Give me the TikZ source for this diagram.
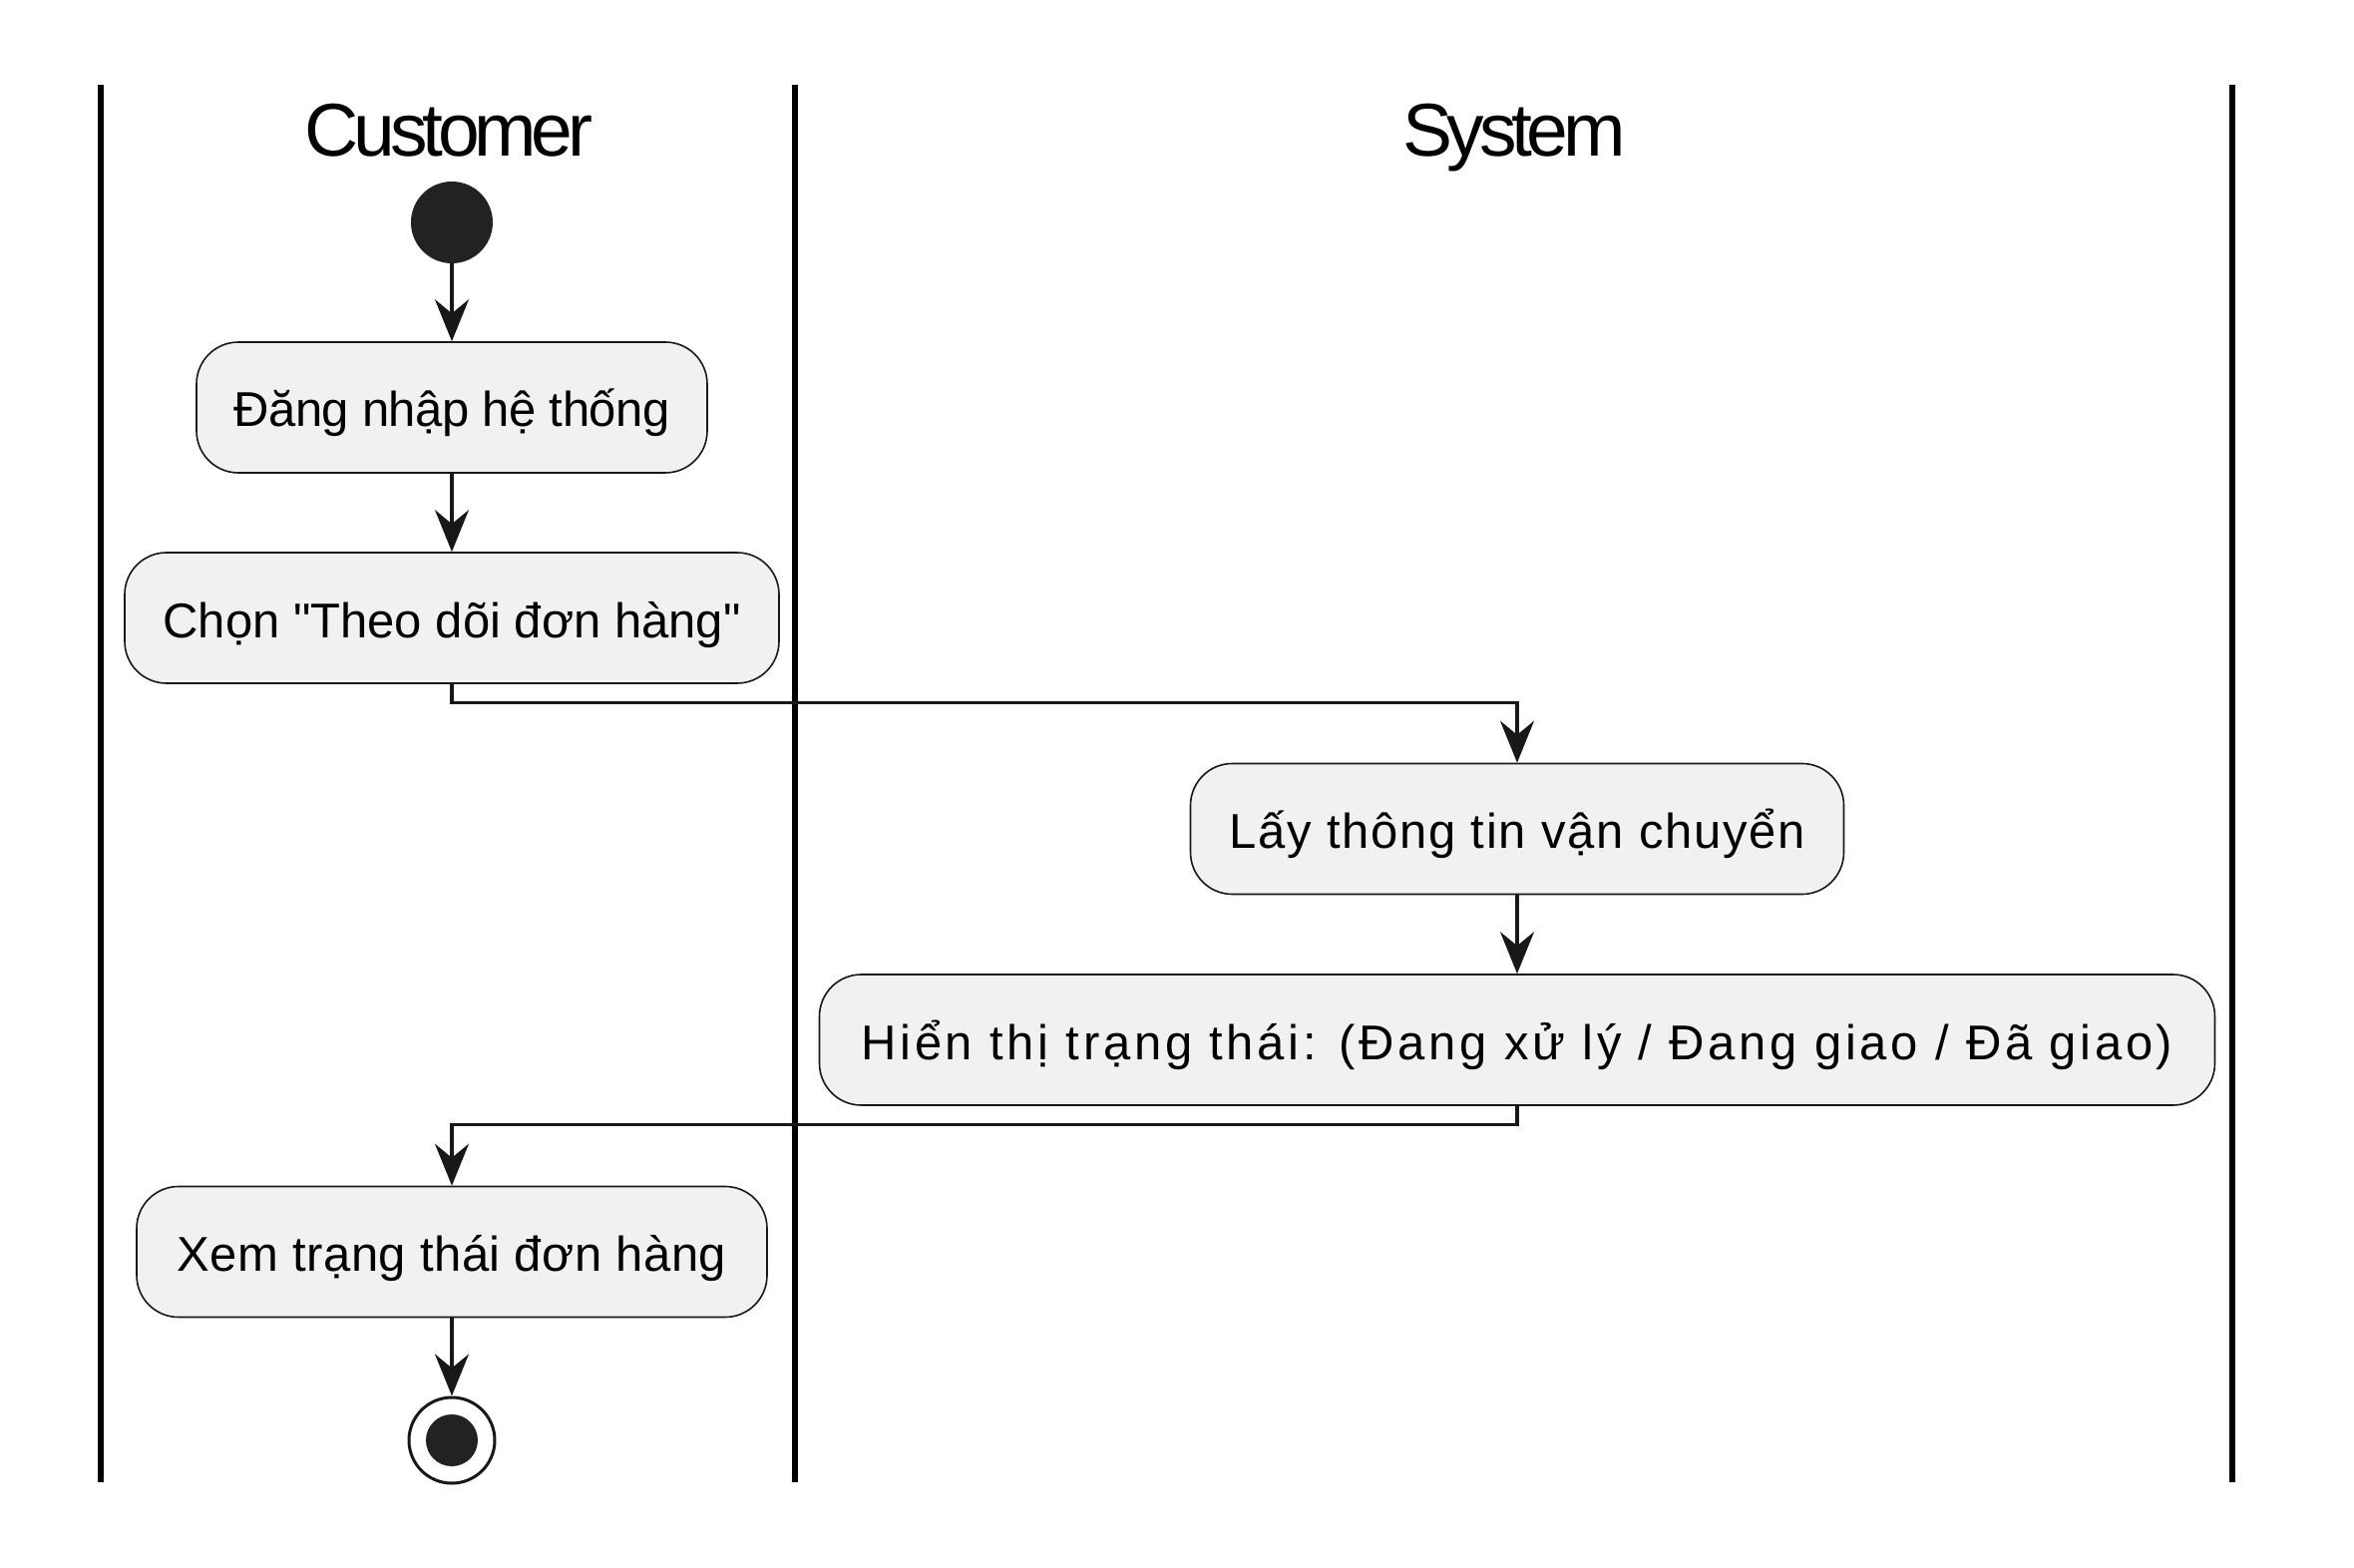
\documentclass[tikz,border=0pt]{standalone}
\usepackage{fontspec}
\setmainfont{Liberation Sans}[Ligatures=TeXOff]
\usetikzlibrary{arrows.meta}
\definecolor{boxfill}{HTML}{F1F1F1}
\definecolor{boxline}{HTML}{181818}
\definecolor{dotfill}{HTML}{222222}
\tikzset{
  actbox/.style={draw=boxline, line width=0.8pt, fill=boxfill, rounded corners=21pt,
    minimum height=65.5pt, inner sep=0pt, text height=24pt, text depth=4.5pt,
    font=\fontsize{24.5pt}{29pt}\selectfont, text=black},
  arr/.style={draw=boxline, line width=1.6pt, line join=miter,
    -{Stealth[length=21pt,width=17pt,inset=7pt]}},
  lane/.style={draw=black, line width=2.7pt},
  lanetitle/.style={font=\fontsize{37.5pt}{44pt}\selectfont\addfontfeatures{LetterSpace=-7}, anchor=base, inner sep=0pt, text=black},
  startdot/.style={circle, fill=dotfill, draw=none, minimum size=41pt, inner sep=0pt},
  enddot/.style={circle, draw=boxline, fill=white, line width=1.5pt, minimum size=43pt, inner sep=0pt}
}
\begin{document}
\begin{tikzpicture}[x=0.5pt,y=-0.5pt]
\useasboundingbox[fill=white] (0,0) rectangle (2360,1572);
% swimlanes
\draw[lane] (101,85) -- (101,1486);
\draw[lane] (797,85) -- (797,1486);
\draw[lane] (2238,85) -- (2238,1486);
\node[lanetitle] (tcust) at (450,157) {Customer};
\node[lanetitle] (tsys) at (1518,157) {System};
% nodes
\node[startdot] (start) at (453,223) {};
\node[actbox, minimum width=256pt] (b1) at (453,408.5) {\addfontfeatures{LetterSpace=-1}Đăng nhập hệ thống};
\node[actbox, minimum width=328pt] (b2) at (453,619.5) {Chọn "Theo dõi đơn hàng"};
\node[actbox, minimum width=327.5pt] (b3) at (1521,831) {\addfontfeatures{LetterSpace=3.5}Lấy thông tin vận chuyển};
\node[actbox, minimum width=699.5pt] (b4) at (1521,1042.5) {\addfontfeatures{LetterSpace=7.5}Hiển thị trạng thái: (Đang xử lý / Đang giao / Đã giao)};
\node[actbox, minimum width=316pt] (b5) at (453,1255) {\addfontfeatures{LetterSpace=1}Xem trạng thái đơn hàng};
\node[enddot] (end) at (453,1444) {};
\fill[dotfill] (end.center) circle[radius=13pt];
% connectors
\draw[arr] (start) -- (b1);
\draw[arr] (b1) -- (b2);
\draw[arr] (b2.south) -- ++(0,19) -| (b3.north);
\draw[arr] (b3) -- (b4);
\draw[arr] (b4.south) -- ++(0,19) -| (b5.north);
\draw[arr] (b5) -- (end);
\end{tikzpicture}
\end{document}
